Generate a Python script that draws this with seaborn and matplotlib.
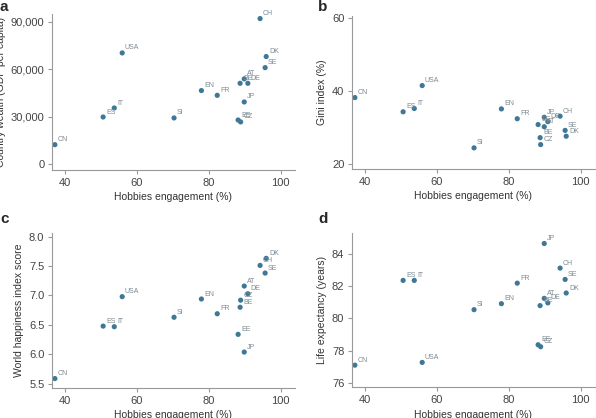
import matplotlib
matplotlib.use("Agg")
import matplotlib.pyplot as plt
import seaborn as sns
import pandas as pd
from matplotlib.ticker import FuncFormatter

countries = ["CN", "ES", "IT", "USA", "SI", "EN", "FR", "EE", "BE", "CZ",
             "AT", "JP", "DE", "CH", "SE", "DK"]
engagement = [37.3, 50.7, 53.8, 56.0, 70.4, 78.0, 82.4, 88.2, 88.75, 88.9,
              89.9, 89.9, 90.9, 94.3, 95.7, 96.0]
gdp = [12400, 29900, 35600, 70400, 29300, 46600, 43600, 28000, 51200, 26800,
       54000, 39400, 51200, 92100, 61100, 68100]
gini = [38.2, 34.3, 35.2, 41.5, 24.4, 35.1, 32.4, 30.8, 27.2, 25.3,
        30.2, 32.8, 31.6, 33.1, 29.2, 27.6]
happiness = [5.59, 6.48, 6.47, 6.98, 6.63, 6.94, 6.69, 6.34, 6.80, 6.92,
             7.16, 6.04, 7.03, 7.51, 7.38, 7.63]
life_exp = [77.10, 82.34, 82.34, 77.27, 80.53, 80.90, 82.17, 78.36, 80.78, 78.24,
            81.23, 84.62, 80.95, 83.10, 82.40, 81.56]

df = pd.DataFrame({"country": countries, "eng": engagement, "gdp": gdp,
                   "gini": gini, "happy": happiness, "life": life_exp})

sns.set_theme(style="ticks")
plt.rcParams["font.family"] = ["Liberation Sans", "DejaVu Sans"]

fig = plt.figure(figsize=(5.96, 4.18), dpi=100)
W, H = 596, 418
def add_ax(l, t, r, b):
    return fig.add_axes([l / W, 1 - b / H, (r - l) / W, (b - t) / H])

ax_a = add_ax(52, 14, 295, 170)
ax_b = add_ax(352, 16, 595, 169)
ax_c = add_ax(52, 233, 295, 388)
ax_d = add_ax(352, 233, 595, 387)

point_color = "#3f7896"
label_color = "#7d8a94"
panels = [
    (ax_a, "gdp", "Country wealth (GDP per capita)", (-3600, 95000), [0, 30000, 60000, 90000], "a"),
    (ax_b, "gini", "Gini index (%)", (18.6, 60.6), [20, 40, 60], "b"),
    (ax_c, "happy", "World happiness index score", (5.43, 8.06), [5.5, 6.0, 6.5, 7.0, 7.5, 8.0], "c"),
    (ax_d, "life", "Life expectancy (years)", (75.75, 85.27), [76, 78, 80, 82, 84], "d"),
]

for ax, col, ylabel, ylim, yticks, letter in panels:
    sns.scatterplot(data=df, x="eng", y=col, ax=ax, color=point_color,
                    s=14, edgecolor="none", linewidth=0)
    for _, row in df.iterrows():
        ax.annotate(row["country"], (row["eng"], row[col]), xytext=(2, 2.5),
                    textcoords="offset points", fontsize=5, color=label_color)
    ax.set_xlim(36.5, 104)
    ax.set_xticks([40, 60, 80, 100])
    ax.set_ylim(*ylim)
    ax.set_yticks(yticks)
    ax.set_xlabel("Hobbies engagement (%)", fontsize=7.5, color="#333333", labelpad=3.5)
    ax.set_ylabel(ylabel, fontsize=7.5, color="#333333", labelpad=3.5)
    for s in ["top", "right"]:
        ax.spines[s].set_visible(False)
    for s in ["left", "bottom"]:
        ax.spines[s].set_color("#999999")
        ax.spines[s].set_linewidth(0.8)
    ax.tick_params(labelsize=8, colors="#999999", labelcolor="#444444",
                   length=3, width=0.8, pad=2.5)
    ax.grid(False)

ax_a.yaxis.set_major_formatter(FuncFormatter(lambda v, p: f"{int(v):,}"))
ax_c.yaxis.set_major_formatter(FuncFormatter(lambda v, p: f"{v:.1f}"))

fig.text(0 / W, 1 - 0 / H, "a", fontsize=11, fontweight="bold", va="top", ha="left")
fig.text(318 / W, 1 - 0 / H, "b", fontsize=11, fontweight="bold", va="top", ha="left")
fig.text(0 / W, 1 - 212 / H, "c", fontsize=11, fontweight="bold", va="top", ha="left")
fig.text(318 / W, 1 - 212 / H, "d", fontsize=11, fontweight="bold", va="top", ha="left")

fig.savefig("out.png", dpi=100)
